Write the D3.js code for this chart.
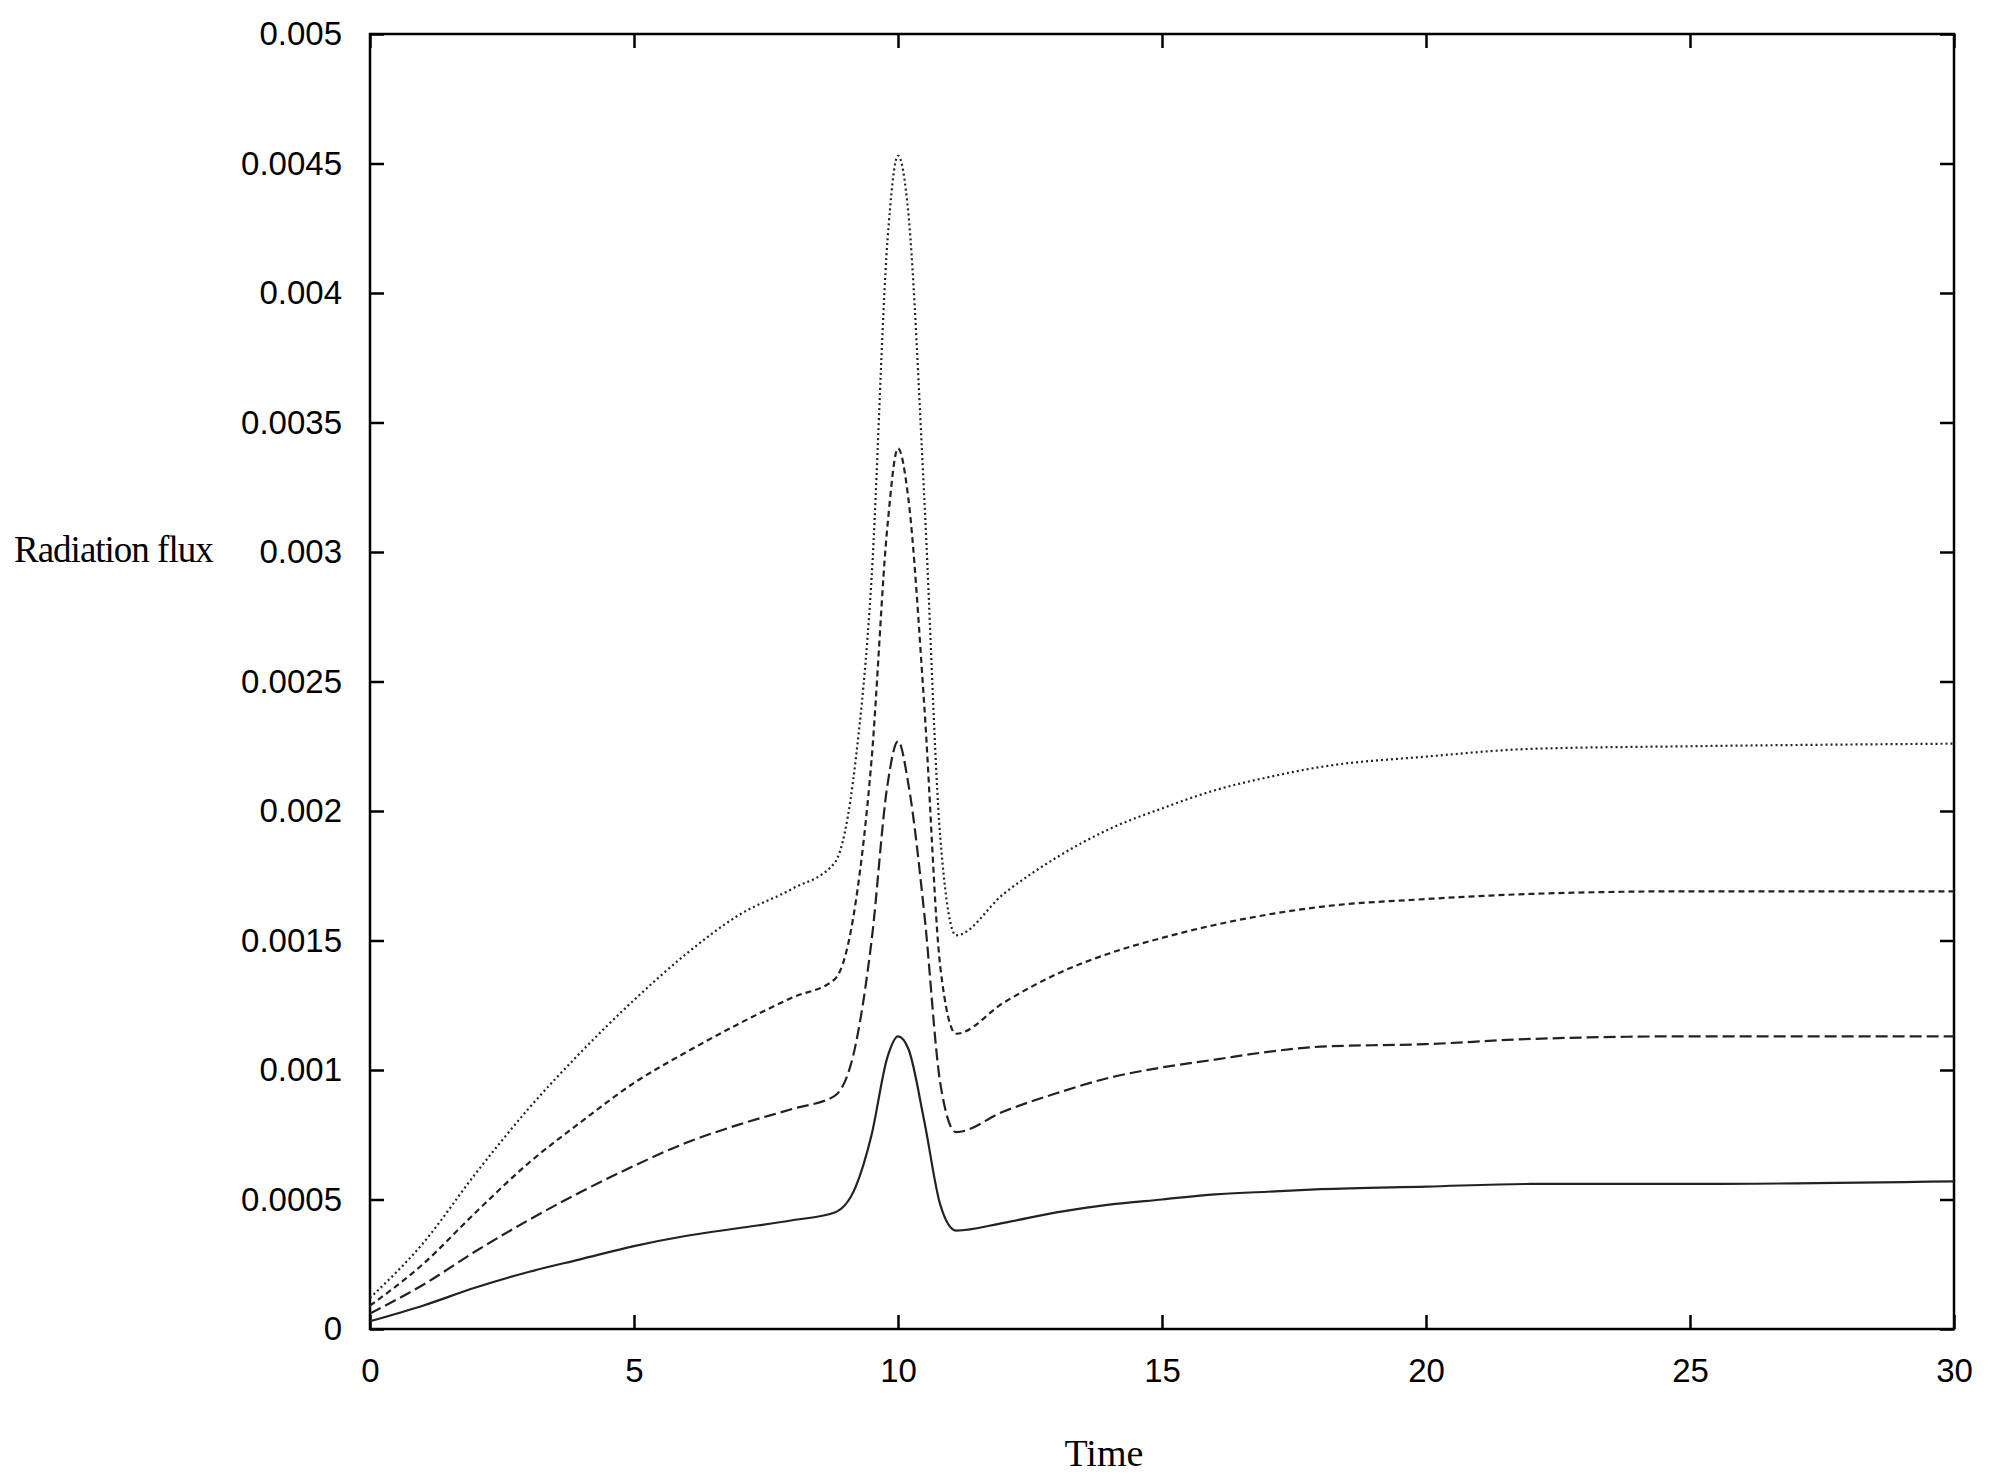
<!DOCTYPE html>
<html><head><meta charset="utf-8">
<script src="https://cdn.jsdelivr.net/npm/d3@7"></script>
<style>body{margin:0;background:#fff}</style>
</head><body>
<svg width="1993" height="1479"></svg>
<script>
var times = [0,1,2,3,4,5,6,7,8,8.8,9.2,9.5,9.8,10,10.2,10.5,10.8,11.1,12,13,14,15,16,17,18,20,22,25,30];
var flux1 = [0.00003,0.00009,0.00016,0.00022,0.00027,0.00032,0.00036,0.00039,0.00042,0.00045,0.00055,0.00075,0.00105,0.00113,0.00108,0.0008,0.00048,0.00038,0.00041,0.00045,0.00048,0.0005,0.00052,0.00053,0.00054,0.00055,0.00056,0.00056,0.00057];
var flux2 = [0.00006,0.00017,0.0003,0.00042,0.00053,0.00063,0.00072,0.00079,0.00085,0.0009,0.0011,0.0015,0.0021,0.00227,0.0021,0.0016,0.00095,0.00076,0.00084,0.00091,0.00097,0.00101,0.00104,0.00107,0.00109,0.0011,0.00112,0.00113,0.00113];
var flux3 = [0.00009,0.00025,0.00045,0.00064,0.0008,0.00095,0.00107,0.00118,0.00128,0.00135,0.00165,0.0022,0.0031,0.0034,0.0032,0.0024,0.0014,0.00114,0.00126,0.00137,0.00145,0.00151,0.00156,0.0016,0.00163,0.00166,0.00168,0.00169,0.00169];
var flux4 = [0.00012,0.00033,0.0006,0.00085,0.00107,0.00127,0.00145,0.0016,0.0017,0.0018,0.0022,0.0029,0.0042,0.00453,0.0043,0.0032,0.0019,0.00152,0.00168,0.00182,0.00193,0.00201,0.00208,0.00213,0.00217,0.00221,0.00224,0.00225,0.00226];
var xTicks = [0,5,10,15,20,25,30];
var yTicks = [0,0.0005,0.001,0.0015,0.002,0.0025,0.003,0.0035,0.004,0.0045,0.005];

var series = [
  {v: flux1, dash: null},
  {v: flux2, dash: "12,5"},
  {v: flux3, dash: "6,4"},
  {v: flux4, dash: "2,3"}
];

var L = 370, R = 1954, T = 34, B = 1329;
var svg = d3.select("svg");
var x = d3.scaleLinear().domain([0, 30]).range([L, R]);
var y = d3.scaleLinear().domain([0, 0.005]).range([B, T]);
var font = "Liberation Sans, Arial, sans-serif";

// inward ticks on all sides
function styleAxis(g) {
  g.select(".domain").remove();
  g.selectAll("line").attr("stroke", "#000").attr("stroke-width", 2.5);
  g.selectAll("text").attr("font-family", font).attr("font-size", 33).attr("fill", "#000");
}
svg.append("g").attr("transform", "translate(0," + B + ")")
  .call(d3.axisBottom(x).tickValues(xTicks).tickSize(-14).tickPadding(30).tickFormat(d3.format("d")))
  .call(styleAxis);
svg.append("g").attr("transform", "translate(0," + T + ")")
  .call(d3.axisTop(x).tickValues(xTicks).tickSize(-14).tickFormat(""))
  .call(styleAxis);
svg.append("g").attr("transform", "translate(" + L + ",0)")
  .call(d3.axisLeft(y).tickValues(yTicks).tickSize(-14).tickPadding(28).tickFormat(function(d){ return d === 0 ? "0" : String(+d.toFixed(4)); }))
  .call(styleAxis);
svg.append("g").attr("transform", "translate(" + R + ",0)")
  .call(d3.axisRight(y).tickValues(yTicks).tickSize(-14).tickFormat(""))
  .call(styleAxis);

svg.append("rect").attr("x", L).attr("y", T).attr("width", R - L).attr("height", B - T)
  .attr("fill", "none").attr("stroke", "#000").attr("stroke-width", 2.5);

var line = d3.line().x(function(d){ return x(d[0]); }).y(function(d){ return y(d[1]); }).curve(d3.curveMonotoneX);
series.forEach(function(s) {
  svg.append("path").datum(times.map(function(t, i){ return [t, s.v[i]]; }))
    .attr("d", line).attr("fill", "none").attr("stroke", "#222").attr("stroke-width", 2.2)
    .attr("stroke-dasharray", s.dash);
});

svg.append("text").attr("x", 14).attr("y", y(0.003) + 10).attr("font-family", "Liberation Serif, Times New Roman, serif")
  .attr("font-size", 37).attr("letter-spacing", -1).text("Radiation flux");
svg.append("text").attr("x", x(13.9)).attr("y", 1466).attr("text-anchor", "middle")
  .attr("font-family", "Liberation Serif, Times New Roman, serif").attr("font-size", 38).text("Time");
</script>
</body></html>
